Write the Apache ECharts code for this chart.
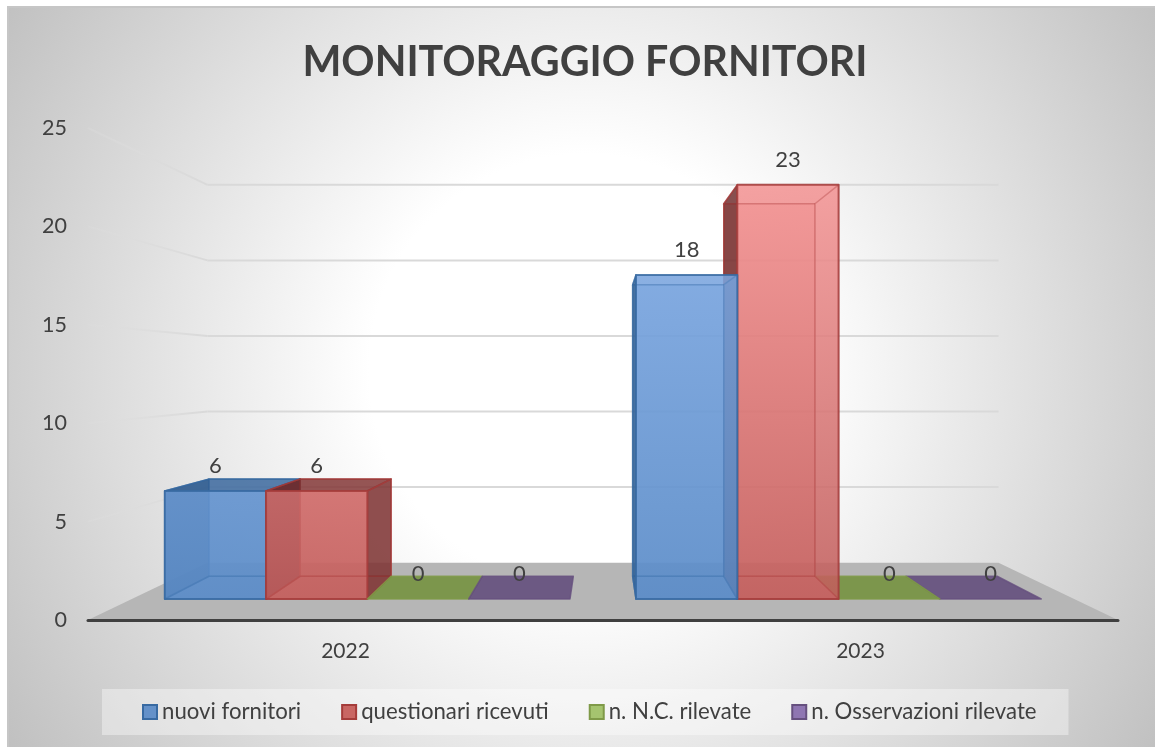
<!DOCTYPE html>
<html>
<head>
<meta charset="utf-8">
<title>Monitoraggio fornitori</title>
<script src="https://cdn.jsdelivr.net/npm/echarts@6/dist/echarts.min.js"></script>
<style>
  html, body { margin: 0; padding: 0; background: #fff; }
  #chart { width: 1155px; height: 747px; }
</style>
</head>
<body>
<div id="chart"></div>
<script>
  var years = ['2022', '2023']
  var nuoviFornitori = [6, 18]
  var questionariRicevuti = [6, 23]
  var ncRilevate = [0, 0]
  var osservazioniRilevate = [0, 0]
  var yTicks = [5, 10, 15, 20, 25]
  var seriesNames = ['nuovi fornitori', 'questionari ricevuti', 'n. N.C. rilevate', 'n. Osservazioni rilevate']

  // colori: [chiaro in alto, base in basso, lati, bordo]
  var palette = [
    ['#86afe8', '#5b8cc8', '#2f5c90', '#386aa2'],
    ['#f89898', '#c45f5d', '#6e2a2a', '#a53c3a'],
    ['#9bbb59', '#9bbb59', '#6f8f35', '#7f9a48'],
    ['#8064a2', '#8064a2', '#5c4478', '#66507f']
  ]
  var legendFill = ['#6491c9', '#c96663', '#a5c46f', '#8f76b2']
  var textColor = '#404040'

  // prospettiva: punto di fuga e profondita' dei piani rispetto al piano degli assi
  var vanishX = 603
  var vanishY = 373
  var depthFront = 0.915
  var depthBack = 0.823
  var depthWall = 0.768
  var groupShare = 0.86

  function project (p, depth) {
    return [vanishX + (p[0] - vanishX) * depth, vanishY + (p[1] - vanishY) * depth]
  }

  function face (points, fill, stroke, lineWidth, z2, opacity) {
    return {
      type: 'polygon',
      z2: z2,
      shape: { points: points },
      style: { fill: fill, stroke: stroke, lineWidth: lineWidth, lineJoin: 'round', opacity: opacity }
    }
  }

  function edge (points, stroke, z2) {
    return {
      type: 'polyline',
      z2: z2,
      shape: { points: points },
      style: { fill: null, stroke: stroke, lineWidth: 1.5, opacity: 0.3 }
    }
  }

  function renderBar (seriesIndex) {
    return function (params, api) {
      var cat = api.value(0)
      var val = api.value(1)
      var band = api.size([1, 0])[0]
      var barW = band * groupShare / 4
      var center = api.coord([cat, 0])[0]
      var x0 = center - band * groupShare / 2 + barW * seriesIndex
      var x1 = x0 + barW
      var yBase = api.coord([cat, 0])[1]
      var yTop = api.coord([cat, val])[1]
      var c = palette[seriesIndex]
      // a sinistra del punto di fuga si disegna da sinistra, a destra il contrario
      var z2 = cat === 0 ? seriesIndex * 10 : (3 - seriesIndex) * 10

      function f (x, y) { return project([x, y], depthFront) }
      function b (x, y) { return project([x, y], depthBack) }

      var frontFill = new echarts.graphic.LinearGradient(0, 185, 0, 600, [
        { offset: 0, color: c[0] },
        { offset: 1, color: c[1] }
      ], true)

      var children = []
      if (val > 0) {
        // i lati che restano dietro la faccia frontale si vedono appena
        var rightBehind = f(x1, yTop)[0] > b(x1, yTop)[0]
        var topBehind = yTop < vanishY
        var rightOpacity = rightBehind ? (seriesIndex === 0 ? 0.45 : 0.2) : 0.7
        children.push(face([b(x0, yTop), b(x1, yTop), b(x1, yBase), b(x0, yBase)], c[1], c[3], 1.5, z2, 0.55))
        children.push(face([f(x0, yBase), f(x1, yBase), b(x1, yBase), b(x0, yBase)], c[1], c[3], 1.5, z2, 0.6))
        children.push(face([f(x0, yTop), b(x0, yTop), b(x0, yBase), f(x0, yBase)], c[2], c[3], 1.5, z2, 0.78))
        children.push(face([f(x1, yTop), b(x1, yTop), b(x1, yBase), f(x1, yBase)], c[2], c[3], 1.5, z2, rightOpacity))
        children.push(face([f(x0, yTop), f(x1, yTop), b(x1, yTop), b(x0, yTop)], c[2], c[3], 1.5, z2, topBehind ? 0.2 : 0.65))
        children.push(face([f(x0, yTop), f(x1, yTop), f(x1, yBase), f(x0, yBase)], frontFill, c[3], 2, z2 + 1, 0.84))
        // spigoli interni visti attraverso la faccia frontale
        children.push(edge([f(x1, yTop), b(x1, yTop), b(x1, yBase), f(x1, yBase)], c[3], z2 + 2))
        children.push(edge([f(x0, yTop), b(x0, yTop), b(x1, yTop)], c[3], z2 + 2))
        children.push(edge([f(x0, yBase), b(x0, yBase), b(x1, yBase)], c[3], z2 + 2))
      } else {
        children.push(face([f(x0, yBase), f(x1, yBase), b(x1, yBase), b(x0, yBase)], c[2], c[3], 1.5, z2, 0.82))
      }
      var top = f((x0 + x1) / 2, yTop)
      children.push({
        type: 'text',
        z2: 200,
        style: {
          x: top[0],
          y: top[1] - 25,
          text: String(val),
          fill: textColor,
          font: '22px Lato',
          align: 'center',
          verticalAlign: 'middle'
        }
      })
      return { type: 'group', children: children }
    }
  }

  function renderFloor (params, api) {
    var s = params.coordSys
    var left = s.x
    var right = s.x + s.width
    var base = api.coord([0, 0])[1]
    return face([
      [left, base],
      [right, base],
      project([right, base], depthWall),
      project([left, base], depthWall)
    ], '#b6b6b6', null, 0, 1, 1)
  }

  function renderGrid (params, api) {
    var s = params.coordSys
    var left = s.x
    var right = s.x + s.width
    var y = api.coord([0, api.value(0)])[1]
    var a = project([left, y], depthWall)
    var b = project([right, y], depthWall)
    return {
      type: 'group',
      children: [{
        type: 'line',
        shape: { x1: left, y1: y, x2: a[0], y2: a[1] },
        style: {
          lineWidth: 2,
          stroke: new echarts.graphic.LinearGradient(left, 0, a[0], 0, [
            { offset: 0, color: 'rgba(222,222,222,0.25)' },
            { offset: 1, color: '#d9d9d9' }
          ], true)
        }
      }, {
        type: 'line',
        shape: { x1: a[0], y1: a[1], x2: b[0], y2: b[1] },
        style: { lineWidth: 2, stroke: '#d9d9d9' }
      }]
    }
  }

  var barValues = [nuoviFornitori, questionariRicevuti, ncRilevate, osservazioniRilevate]
  var series = [
    { type: 'custom', silent: true, z: 1, renderItem: renderGrid, data: yTicks.map(function (t) { return [t] }) },
    { type: 'custom', silent: true, z: 1, renderItem: renderFloor, data: [[0]] }
  ]
  seriesNames.forEach(function (name, i) {
    series.push({
      name: name,
      type: 'custom',
      z: 2,
      silent: true,
      itemStyle: { color: legendFill[i], borderColor: palette[i][3], borderWidth: 2 },
      renderItem: renderBar(i),
      encode: { x: 0, y: 1 },
      data: barValues[i].map(function (v, k) { return [k, v] })
    })
  })

  var mychart = echarts.init(document.getElementById('chart'), null, { renderer: 'canvas' })
  mychart.setOption({
    animation: false,
    backgroundColor: '#ffffff',
    textStyle: { fontFamily: 'Lato' },
    title: {
      text: 'MONITORAGGIO FORNITORI',
      left: 580,
      top: 58,
      textAlign: 'center',
      textVerticalAlign: 'middle',
      textStyle: { color: textColor, fontFamily: 'Lato', fontWeight: 'bold', fontSize: 41.2 }
    },
    graphic: [{
      type: 'rect',
      z: -1,
      silent: true,
      shape: { x: 8, y: 7, width: 1150, height: 745 },
      style: {
        stroke: '#c6c6c6',
        lineWidth: 2,
        fill: new echarts.graphic.RadialGradient(585, 370, 720, [
          { offset: 0, color: '#ffffff' },
          { offset: 0.3, color: '#ffffff' },
          { offset: 1, color: '#bcbcbc' }
        ], true)
      }
    }],
    legend: {
      left: 102,
      top: 689,
      padding: [10, 32, 10, 40],
      backgroundColor: 'rgba(255,255,255,0.38)',
      icon: 'rect',
      itemWidth: 14,
      itemHeight: 14,
      itemGap: 40,
      textStyle: { color: textColor, fontFamily: 'Lato', fontSize: 22.2, lineHeight: 26 },
      data: seriesNames
    },
    grid: { left: 88, right: 37, top: 128, bottom: 127 },
    xAxis: {
      type: 'category',
      data: years,
      z: 3,
      axisTick: { show: false },
      axisLine: { lineStyle: { color: '#404040', width: 3 } },
      axisLabel: { color: textColor, fontFamily: 'Lato', fontSize: 21, margin: 21 }
    },
    yAxis: {
      type: 'value',
      min: 0,
      max: 25,
      interval: 5,
      axisLine: { show: false },
      axisTick: { show: false },
      splitLine: { show: false },
      axisLabel: { color: textColor, fontFamily: 'Lato', fontSize: 21.5, margin: 21 }
    },
    series: series
  })
</script>
</body>
</html>
